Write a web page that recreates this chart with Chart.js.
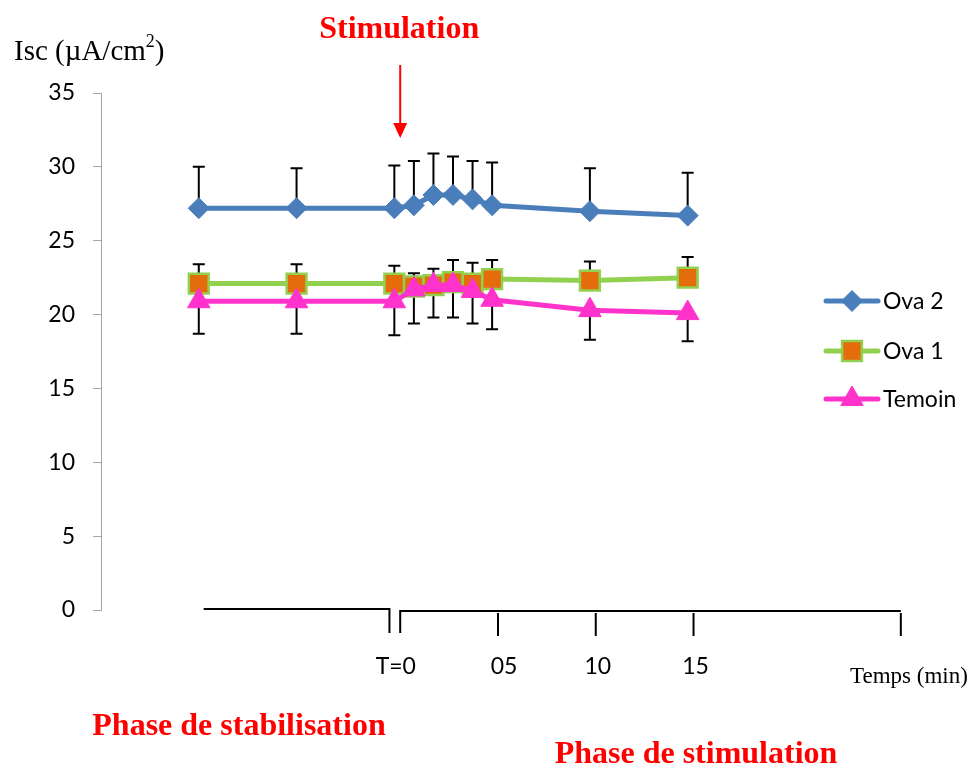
<!DOCTYPE html>
<html>
<head>
<meta charset="utf-8">
<script src="https://cdn.jsdelivr.net/npm/chart.js@4/dist/chart.umd.min.js"></script>
<style>
  html, body { margin: 0; padding: 0; background: #fff; }
  #wrap { width: 974px; height: 767px; position: relative; }
</style>
</head>
<body>
<div id="wrap"><canvas id="chart"></canvas></div>
<script>
// ---- Data ----
const times = [-10, -5, 0, 1, 2, 3, 4, 5, 10, 15];

const ova2 = [27.2, 27.2, 27.2, 27.4, 28.1, 28.1, 27.8, 27.4, 27.0, 26.7];
const ova2Err = [2.8, 2.7, 2.9, 3.0, 2.8, 2.6, 2.6, 2.9, 2.9, 2.9];

const ova1 = [22.1, 22.1, 22.1, 21.9, 22.0, 22.2, 22.1, 22.4, 22.3, 22.5];
const ova1Err = [1.3, 1.3, 1.2, 0.9, 1.1, 1.5, 1.4, 1.3, 1.3, 1.4];

const temoin = [20.9, 20.9, 20.9, 21.7, 22.0, 22.0, 21.6, 21.0, 20.3, 20.1];
const temoinErr = [2.2, 2.2, 2.3, 2.3, 2.2, 2.2, 2.2, 2.0, 2.0, 1.9];

const seriesNames = ["Ova 2", "Ova 1", "Temoin"];

// time axis drawn by hand under the plot (minutes)
const stabBracket = [-9.75, -0.25];
const stimTicks = [0.3, 5.3, 10.3, 15.3, 25.9];
const stimLabels = ["T=0", "05", "10", "15", ""];

const yTicks = { min: 0, max: 35, step: 5 };

const SANS = "Lato, 'Open Sans', sans-serif";
const SERIF = "'Liberation Serif', 'DejaVu Serif', serif";
const RED = "#ff0000";

const toPts = arr => arr.map((v, i) => ({ x: times[i], y: v }));

// ---- error bars + annotations ----
const decor = {
  id: "decor",
  beforeDatasetsDraw(chart) {
    const ctx = chart.ctx;
    const ys = chart.scales.y;
    ctx.save();
    ctx.strokeStyle = "#000";
    ctx.lineWidth = 2;
    chart.data.datasets.forEach((ds, i) => {
      const meta = chart.getDatasetMeta(i);
      ds.errors.forEach((e, j) => {
        const x = meta.data[j].x;
        const y0 = ys.getPixelForValue(ds.data[j].y);
        const y1 = ys.getPixelForValue(ds.data[j].y + ds.errDir * e);
        ctx.beginPath();
        ctx.moveTo(x, y0);
        ctx.lineTo(x, y1);
        ctx.moveTo(x - 6, y1);
        ctx.lineTo(x + 6, y1);
        ctx.stroke();
      });
    });
    ctx.restore();
  },
  afterDraw(chart) {
    const ctx = chart.ctx;
    const xs = chart.scales.x;
    const base = chart.chartArea.bottom;
    ctx.save();

    // y title
    ctx.fillStyle = "#000";
    ctx.textBaseline = "alphabetic";
    ctx.textAlign = "left";
    ctx.font = "29px " + SERIF;
    const t1 = "Isc (\u00b5A/cm";
    ctx.fillText(t1, 14, 60);
    let w = ctx.measureText(t1).width;
    ctx.font = "18px " + SERIF;
    ctx.fillText("2", 14 + w, 47);
    const w2 = ctx.measureText("2").width;
    ctx.font = "29px " + SERIF;
    ctx.fillText(")", 14 + w + w2, 60);

    // stimulation arrow
    const ax = xs.getPixelForValue(stimTicks[0]);
    ctx.fillStyle = RED;
    ctx.strokeStyle = RED;
    ctx.font = "bold 32px " + SERIF;
    ctx.textAlign = "center";
    ctx.fillText("Stimulation", ax - 1, 38);
    ctx.lineWidth = 2;
    ctx.beginPath();
    ctx.moveTo(ax, 65);
    ctx.lineTo(ax, 126);
    ctx.stroke();
    ctx.beginPath();
    ctx.moveTo(ax - 7, 123);
    ctx.lineTo(ax + 7, 123);
    ctx.lineTo(ax, 138);
    ctx.closePath();
    ctx.fill();

    // brackets under the plot
    ctx.strokeStyle = "#000";
    ctx.lineWidth = 2;
    const sx0 = xs.getPixelForValue(stabBracket[0]);
    const sx1 = xs.getPixelForValue(stabBracket[1]);
    ctx.beginPath();
    ctx.moveTo(sx0, base - 1);
    ctx.lineTo(sx1, base - 1);
    ctx.lineTo(sx1, base + 23);
    ctx.stroke();

    const px = stimTicks.map(v => xs.getPixelForValue(v));
    ctx.beginPath();
    ctx.moveTo(px[0], base + 23);
    ctx.lineTo(px[0], base + 1);
    ctx.lineTo(px[px.length - 1], base + 1);
    ctx.stroke();
    px.slice(1).forEach(p => {
      ctx.beginPath();
      ctx.moveTo(p, base + 3);
      ctx.lineTo(p, base + 26);
      ctx.stroke();
    });

    ctx.fillStyle = "#000";
    ctx.font = "23px " + SANS;
    ctx.textAlign = "center";
    ctx.textBaseline = "middle";
    stimLabels.forEach((lab, i) => {
      if (!lab) return;
      const x = i === 0 ? (sx1 + px[0]) / 2 + 1 : px[i] + (i === 1 ? 6 : 2);
      ctx.fillText(lab, x, 667);
    });

    ctx.font = "23px " + SERIF;
    ctx.textAlign = "left";
    ctx.fillText("Temps (min)", 850, 677);

    ctx.fillStyle = RED;
    ctx.font = "bold 32px " + SERIF;
    ctx.textAlign = "center";
    ctx.fillText("Phase de stabilisation", 239, 727);
    ctx.fillText("Phase de stimulation", 696, 755);

    // legend with line + marker
    const legendY = [301, 351, 399];
    chart.data.datasets.forEach((ds, i) => {
      const y = legendY[i];
      ctx.strokeStyle = ds.borderColor;
      ctx.lineWidth = ds.borderWidth;
      ctx.lineCap = "round";
      ctx.beginPath();
      ctx.moveTo(826, y);
      ctx.lineTo(878, y);
      ctx.stroke();
      ctx.lineCap = "butt";
      ctx.fillStyle = ds.pointBackgroundColor;
      ctx.strokeStyle = ds.pointBorderColor;
      ctx.lineWidth = ds.pointBorderWidth;
      Chart.helpers.drawPoint(ctx, {
        pointStyle: ds.pointStyle,
        radius: ds.pointRadius,
        rotation: 0,
        borderWidth: ds.pointBorderWidth
      }, 852, y);
      ctx.fillStyle = "#000";
      ctx.font = "23px " + SANS;
      ctx.textAlign = "left";
      ctx.textBaseline = "middle";
      ctx.fillText(seriesNames[i], 883, y + 1);
    });

    ctx.restore();
  }
};

new Chart(document.getElementById("chart"), {
  type: "line",
  data: {
    datasets: [
      {
        label: seriesNames[0],
        data: toPts(ova2),
        errors: ova2Err,
        errDir: 1,
        borderColor: "#4a7ebb",
        borderWidth: 5,
        pointStyle: "rectRot",
        pointRadius: 10.5,
        pointBackgroundColor: "#4a7ebb",
        pointBorderColor: "#4a7ebb",
        pointBorderWidth: 1,
        order: 2
      },
      {
        label: seriesNames[1],
        data: toPts(ova1),
        errors: ova1Err,
        errDir: 1,
        borderColor: "#92d050",
        borderWidth: 5,
        pointStyle: "rect",
        pointRadius: 14,
        pointBackgroundColor: "#e46c0a",
        pointBorderColor: "#92d050",
        pointBorderWidth: 2.5,
        order: 1
      },
      {
        label: seriesNames[2],
        data: toPts(temoin),
        errors: temoinErr,
        errDir: -1,
        borderColor: "#ff33cc",
        borderWidth: 5,
        pointStyle: "triangle",
        pointRadius: 13,
        pointBackgroundColor: "#ff33cc",
        pointBorderColor: "#ff33cc",
        pointBorderWidth: 1,
        order: 0
      }
    ]
  },
  options: {
    animation: false,
    responsive: true,
    maintainAspectRatio: false,
    layout: { padding: { left: 0, right: 169, top: 93, bottom: 157 } },
    plugins: { legend: { display: false }, tooltip: { enabled: false } },
    elements: { line: { tension: 0 } },
    scales: {
      x: { type: "linear", min: -15, max: 21, display: false },
      y: {
        min: yTicks.min,
        max: yTicks.max,
        afterFit: s => { s.width = 101; },
        ticks: { stepSize: yTicks.step, color: "#000", padding: 18, font: { family: SANS, size: 23 } },
        grid: { drawOnChartArea: false, tickLength: 8, color: "#a6a6a6" },
        border: { color: "#a6a6a6", width: 1 }
      }
    }
  },
  plugins: [decor]
});
</script>
</body>
</html>
